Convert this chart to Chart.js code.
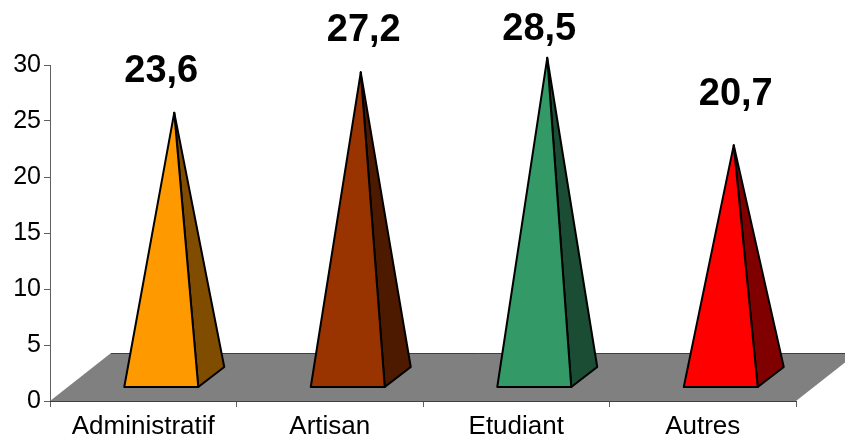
<!DOCTYPE html>
<html>
<head>
<meta charset="utf-8">
<style>
  html, body { margin: 0; padding: 0; background: #fff; }
  #wrap { width: 845px; height: 444px; }
</style>
<script src="https://cdn.jsdelivr.net/npm/chart.js@4"></script>
</head>
<body>
<div id="wrap"><canvas id="chart"></canvas></div>
<script>
const categories = ['Administratif', 'Artisan', 'Etudiant', 'Autres'];
const values = [23.6, 27.2, 28.5, 20.7];
const frontColors = ['#FF9900', '#993300', '#339966', '#FF0000'];
const sideColors = ['#804D00', '#4D1A00', '#1A4D33', '#800000'];
// hand placed value labels, relative to the tip of each pyramid
const labelDx = [-13, 3, -8, 2];
const labelDy = [-31, -31, -18, -40];

const FONT = '"Liberation Sans", Arial, sans-serif';

// fake 3d: the floor and the pyramids are pushed back from the axes
const pyramidPlugin = {
    id: 'pyramids',
    beforeDatasetsDraw: function (chart) {
        const ctx = chart.ctx;
        const x = chart.scales.x;
        const y = chart.scales.y;
        const bottom = y.getPixelForValue(0);

        ctx.save();
        ctx.beginPath();
        ctx.moveTo(x.left, bottom);
        ctx.lineTo(x.right, bottom);
        ctx.lineTo(x.right + 61, bottom - 48);
        ctx.lineTo(x.left + 61, bottom - 48);
        ctx.closePath();
        ctx.fillStyle = '#808080';
        ctx.fill();

        ctx.strokeStyle = '#404040';
        ctx.lineWidth = 1;
        ctx.beginPath();
        ctx.moveTo(x.left + 61, bottom - 47.5);
        ctx.lineTo(x.right + 61, bottom - 47.5);
        ctx.moveTo(x.left, bottom + 0.5);
        ctx.lineTo(x.right, bottom + 0.5);
        ctx.stroke();
        ctx.restore();
    },
    afterDatasetsDraw: function (chart) {
        const ctx = chart.ctx;
        const x = chart.scales.x;
        const y = chart.scales.y;
        const baseY = y.getPixelForValue(0) - 14;

        ctx.save();
        ctx.lineWidth = 2;
        ctx.lineJoin = 'round';
        ctx.strokeStyle = '#000';
        values.forEach(function (v, i) {
            const cx = x.getPixelForValue(i);
            const tipX = cx + 31;
            const tipY = y.getPixelForValue(v) - 24;
            const left = cx - 19;
            const right = cx + 55;

            ctx.beginPath();
            ctx.moveTo(right, baseY);
            ctx.lineTo(right + 26, baseY - 20);
            ctx.lineTo(tipX, tipY);
            ctx.closePath();
            ctx.fillStyle = sideColors[i];
            ctx.fill();
            ctx.stroke();

            ctx.beginPath();
            ctx.moveTo(left, baseY);
            ctx.lineTo(right, baseY);
            ctx.lineTo(tipX, tipY);
            ctx.closePath();
            ctx.fillStyle = frontColors[i];
            ctx.fill();
            ctx.stroke();

            ctx.font = 'bold 38px ' + FONT;
            ctx.fillStyle = '#000';
            ctx.textAlign = 'center';
            ctx.textBaseline = 'alphabetic';
            ctx.fillText(String(v).replace('.', ','), tipX + labelDx[i], tipY + labelDy[i]);
        });
        ctx.restore();
    }
};

const chart = new Chart(document.getElementById('chart'), {
    type: 'bar',
    data: {
        labels: categories,
        datasets: [{
            data: values,
            backgroundColor: 'transparent',
            borderWidth: 0
        }]
    },
    options: {
        responsive: true,
        maintainAspectRatio: false,
        animation: false,
        layout: { padding: { top: 65, right: 49, left: 0, bottom: 0 } },
        plugins: {
            legend: { display: false },
            title: { display: false },
            tooltip: { enabled: false }
        },
        scales: {
            x: {
                afterFit: function (scale) { scale.height = 43; },
                grid: { drawOnChartArea: false, color: '#606060', tickLength: 6, tickColor: '#606060' },
                border: { color: '#404040' },
                ticks: {
                    color: '#000',
                    font: { family: FONT, size: 26 },
                    maxRotation: 0,
                    autoSkip: false,
                    padding: 4
                }
            },
            y: {
                min: 0,
                max: 30,
                afterFit: function (scale) { scale.width = 50; },
                grid: { drawOnChartArea: false, color: '#606060', tickLength: 6, tickColor: '#606060' },
                border: { color: '#606060' },
                ticks: {
                    stepSize: 5,
                    color: '#000',
                    font: { family: FONT, size: 25 },
                    padding: 3
                }
            }
        }
    },
    plugins: [pyramidPlugin]
});
</script>
</body>
</html>
